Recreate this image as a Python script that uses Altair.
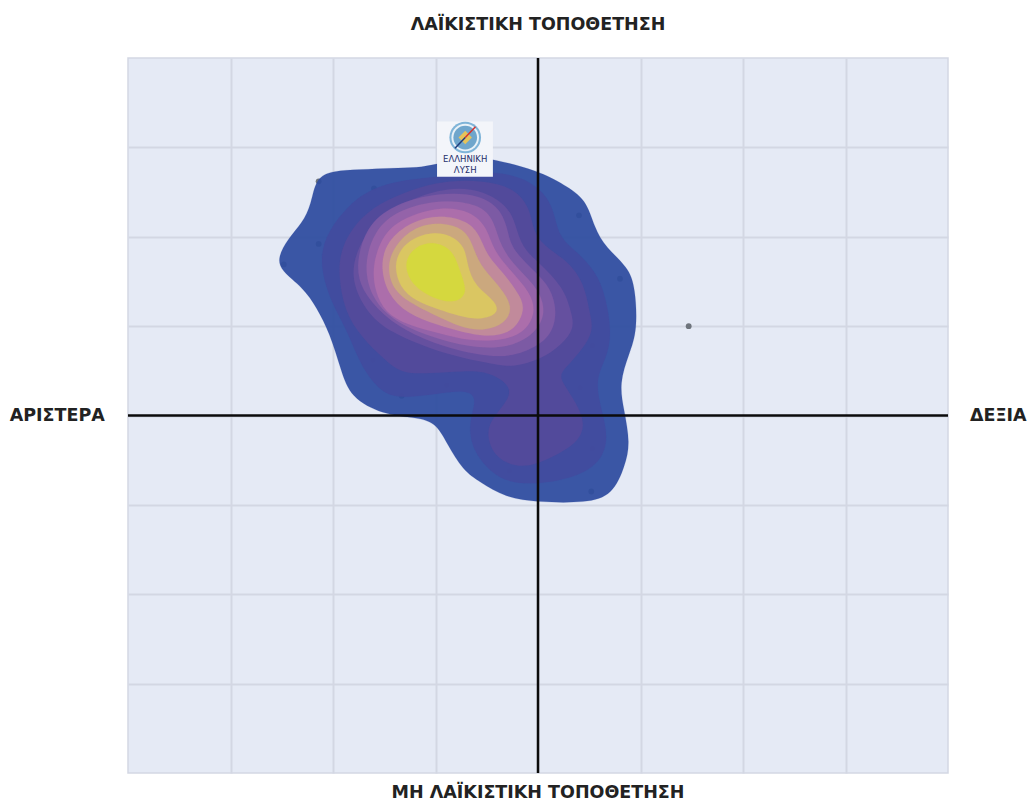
import altair as alt
import pandas as pd

# Density contours, outermost first: (x, y) on the -4..4 compass scale
c0 = [(-2.54,1.77),(-2.44,1.98),(-2.30,2.15),(-2.21,2.37),(-2.17,2.66),(-2.00,2.74),(-1.74,2.75),(-1.42,2.77),(-1.18,2.77),(-0.99,2.81),(-0.67,2.90),(-0.44,2.87),(0,2.74),(0.26,2.58),(0.47,2.42),(0.55,2.10),(0.66,1.88),(0.88,1.66),(0.95,1.43),(0.97,0.95),(0.89,0.69),(0.79,0.36),(0.84,0.06),(0.90,-0.31),(0.85,-0.56),(0.73,-0.89),(0.47,-0.98),(0,-0.97),(-0.32,-0.92),(-0.57,-0.74),(-0.73,-0.62),(-0.89,-0.31),(-1.00,-0.07),(-1.22,-0.02),(-1.51,0.01),(-1.83,0.20),(-1.92,0.50),(-2.03,0.92),(-2.16,1.21),(-2.29,1.43),(-2.51,1.62)]
c1 = [(-2.13,1.77),(-2.05,2.06),(-1.85,2.35),(-1.62,2.55),(-1.25,2.65),(-0.76,2.69),(-0.42,2.74),(-0.06,2.63),(0.15,2.37),(0.19,2.01),(0.36,1.85),(0.56,1.62),(0.66,1.34),(0.72,0.92),(0.67,0.65),(0.55,0.39),(0.63,0.02),(0.69,-0.28),(0.59,-0.56),(0.31,-0.71),(-0.01,-0.77),(-0.28,-0.75),(-0.46,-0.64),(-0.64,-0.39),(-0.68,-0.09),(-0.59,0.19),(-0.69,0.29),(-0.99,0.24),(-1.35,0.19),(-1.53,0.26),(-1.72,0.53),(-1.85,0.92),(-1.97,1.17),(-2.07,1.43)]
c2 = [(-1.95,1.59),(-1.92,1.90),(-1.73,2.23),(-1.47,2.42),(-1.15,2.56),(-0.86,2.63),(-0.54,2.63),(-0.23,2.55),(-0.07,2.31),(-0.05,2.04),(0.11,1.85),(0.29,1.73),(0.45,1.48),(0.50,1.17),(0.54,0.98),(0.48,0.81),(0.31,0.58),(0.21,0.47),(0.24,0.36),(0.38,0.13),(0.46,-0.09),(0.40,-0.30),(0.11,-0.49),(-0.15,-0.60),(-0.42,-0.49),(-0.51,-0.20),(-0.44,-0.02),(-0.29,0.17),(-0.26,0.33),(-0.47,0.49),(-0.73,0.50),(-1.06,0.47),(-1.33,0.47),(-1.48,0.61),(-1.72,0.87),(-1.89,1.17)]
c3 = [(-1.84,1.51),(-1.76,1.90),(-1.56,2.20),(-1.26,2.42),(-0.86,2.56),(-0.54,2.52),(-0.30,2.35),(-0.22,2.15),(-0.16,1.88),(0.02,1.70),(0.25,1.43),(0.32,1.17),(0.36,0.98),(0.23,0.79),(0.03,0.63),(-0.25,0.54),(-0.40,0.57),(-0.73,0.64),(-1.06,0.75),(-1.39,0.91),(-1.63,1.08)]
c4 = [(-1.78,1.68),(-1.68,2.11),(-1.42,2.36),(-0.96,2.50),(-0.55,2.47),(-0.35,2.29),(-0.29,2.04),(-0.25,1.85),(-0.01,1.59),(0.12,1.43),(0.19,1.17),(0.13,0.87),(-0.13,0.70),(-0.40,0.64),(-0.86,0.74),(-1.27,0.93),(-1.52,1.13),(-1.72,1.40)]
c5 = [(-1.70,1.68),(-1.60,2.07),(-1.37,2.30),(-0.96,2.42),(-0.58,2.37),(-0.43,2.20),(-0.37,1.88),(-0.18,1.62),(0.00,1.42),(0.08,1.17),(-0.01,0.93),(-0.28,0.75),(-0.67,0.76),(-1.08,0.89),(-1.43,1.07),(-1.63,1.33)]
c6 = [(-1.62,1.68),(-1.51,2.04),(-1.30,2.22),(-0.96,2.34),(-0.65,2.29),(-0.49,2.09),(-0.44,1.85),(-0.25,1.60),(-0.08,1.38),(-0.02,1.17),(-0.11,0.95),(-0.32,0.84),(-0.67,0.83),(-0.96,0.92),(-1.27,1.01),(-1.49,1.15),(-1.59,1.38)]
c7 = [(-1.54,1.68),(-1.47,1.96),(-1.24,2.17),(-0.96,2.25),(-0.68,2.18),(-0.56,2.00),(-0.50,1.79),(-0.34,1.60),(-0.20,1.38),(-0.12,1.21),(-0.21,0.98),(-0.37,0.89),(-0.60,0.89),(-0.98,1.01),(-1.28,1.14),(-1.47,1.36)]
c8 = [(-1.48,1.68),(-1.38,1.94),(-1.17,2.13),(-0.93,2.16),(-0.72,2.09),(-0.64,1.92),(-0.57,1.68),(-0.40,1.48),(-0.24,1.23),(-0.31,1.03),(-0.54,0.94),(-0.76,0.99),(-0.98,1.11),(-1.18,1.22),(-1.41,1.38)]
c9 = [(-1.41,1.70),(-1.31,1.93),(-1.07,2.06),(-0.84,2.02),(-0.71,1.88),(-0.69,1.68),(-0.62,1.45),(-0.40,1.27),(-0.39,1.13),(-0.57,1.07),(-0.76,1.11),(-0.98,1.19),(-1.19,1.28),(-1.35,1.43)]
c10 = [(-1.32,1.70),(-1.20,1.90),(-1.00,1.95),(-0.82,1.84),(-0.76,1.60),(-0.68,1.37),(-0.81,1.25),(-1.02,1.31),(-1.22,1.44)]
contours = [c0, c1, c2, c3, c4, c5, c6, c7, c8, c9, c10]
contour_colors = ["#2F4D9F", "#424B9E", "#534A9B", "#66519F", "#7D5AA5", "#9664A9",
                  "#AD6EAB", "#C28C9A", "#CBAA7C", "#DBC861", "#D5D93B"]

# Individual parties
point_x = [-2.14, 1.47, -1.60, -2.14, -2.48, 0.40, 0.80, 0.52, -1.33, 0.53, 0.41, 0.53, -0.28, -0.89, -1.61]
point_y = [2.62, 1.00, 2.54, 1.92, 1.69, 2.24, 1.53, -0.85, 0.22, 0.78, 0.31, -0.37, -0.62, 0.34, 0.62]

ticks = [-3, -2, -1, 0, 1, 2, 3]
FONT = "DejaVu Sans"

x_enc = alt.X("x:Q", scale=alt.Scale(domain=[-4, 4], nice=False, zero=False),
              axis=alt.Axis(values=ticks, labels=False, ticks=False, domain=False, title=None,
                            grid=True, gridColor="#D3D7E3", gridWidth=2))
y_enc = alt.Y("y:Q", scale=alt.Scale(domain=[-4, 4], nice=False, zero=False),
              axis=alt.Axis(values=ticks, labels=False, ticks=False, domain=False, title=None,
                            grid=True, gridColor="#D3D7E3", gridWidth=2))

layers = []
points = alt.Chart(pd.DataFrame({"x": point_x, "y": point_y})).mark_circle(
    size=34, color="#6E747C", opacity=1).encode(x=x_enc, y=y_enc)
layers.append(points)

for pts, col in zip(contours, contour_colors):
    df = pd.DataFrame({"x": [p[0] for p in pts], "y": [p[1] for p in pts], "i": range(len(pts))})
    layers.append(
        alt.Chart(df).mark_line(interpolate="basis-closed", fill=col, fillOpacity=0.94,
                                stroke=col, strokeWidth=0.3, strokeOpacity=0.5)
        .encode(x=alt.X("x:Q"), y=alt.Y("y:Q"), order="i:Q")
    )

# Quadrant axes
layers.append(alt.Chart(pd.DataFrame({"x": [0], "y": [-4], "y2": [4]})).mark_rule(color="#0B0B0B", strokeWidth=2.5)
              .encode(x="x:Q", y="y:Q", y2="y2:Q"))
layers.append(alt.Chart(pd.DataFrame({"y": [0], "x": [-4], "x2": [4]})).mark_rule(color="#0B0B0B", strokeWidth=2.5)
              .encode(y="y:Q", x="x:Q", x2="x2:Q"))

# Party logo
layers.append(alt.Chart(pd.DataFrame({"x": [-0.985], "x2": [-0.44], "y": [2.67], "y2": [3.29]}))
              .mark_rect(color="#F3F5FA").encode(x="x:Q", x2="x2:Q", y="y:Q", y2="y2:Q"))
logo_x, logo_y = [-0.71], [3.11]
for size, col in [(1000, "#7FB4D8"), (760, "#E9F2F8"), (560, "#6FA6CC")]:
    layers.append(alt.Chart(pd.DataFrame({"x": logo_x, "y": logo_y})).mark_circle(size=size, color=col, opacity=1)
                  .encode(x="x:Q", y="y:Q"))
layers.append(alt.Chart(pd.DataFrame({"x": logo_x, "y": logo_y})).mark_point(shape="diamond", size=180, filled=True, color="#E5C35A", opacity=1)
              .encode(x="x:Q", y="y:Q"))
layers.append(alt.Chart(pd.DataFrame({"x": [-0.71], "y": [3.11], "x2": [-0.61], "y2": [3.23]})).mark_rule(color="#D6322E", strokeWidth=1.5)
              .encode(x="x:Q", y="y:Q", x2="x2:Q", y2="y2:Q"))
layers.append(alt.Chart(pd.DataFrame({"x": [-0.71], "y": [3.11], "x2": [-0.81], "y2": [2.99]})).mark_rule(color="#1F3A7A", strokeWidth=1.5)
              .encode(x="x:Q", y="y:Q", x2="x2:Q", y2="y2:Q"))
layers.append(alt.Chart(pd.DataFrame({"x": [-0.71, -0.71], "y": [2.875, 2.75], "t": ["ΕΛΛΗΝΙΚΗ", "ΛΥΣΗ"]}))
              .mark_text(font=FONT, fontSize=8.5, color="#1F2F6B", align="center", baseline="middle")
              .encode(x="x:Q", y="y:Q", text="t:N"))

# Compass labels
label_x = [0, 0, -4.69, 4.49]
label_y = [4.37, -4.225, 0, 0]
label_text = ["ΛΑΪΚΙΣΤΙΚΗ ΤΟΠΟΘΕΤΗΣΗ", "ΜΗ ΛΑΪΚΙΣΤΙΚΗ ΤΟΠΟΘΕΤΗΣΗ", "ΑΡΙΣΤΕΡΑ", "ΔΕΞΙΑ"]
layers.append(alt.Chart(pd.DataFrame({"x": label_x, "y": label_y, "t": label_text}))
              .mark_text(font=FONT, fontSize=17.5, fontWeight="bold", color="#222222", align="center", baseline="middle")
              .encode(x="x:Q", y="y:Q", text="t:N"))

chart = alt.layer(*layers).properties(
    width=820, height=715,
    autosize=alt.AutoSizeParams(type="none"),
    padding={"left": 120, "top": 50, "right": 79, "bottom": 31},
    background="#FFFFFF",
).configure_view(fill="#E5EAF5", stroke="#D3D7E3", strokeWidth=1.5)

chart.save("out.html", embed_options={"renderer": "svg", "actions": False})
